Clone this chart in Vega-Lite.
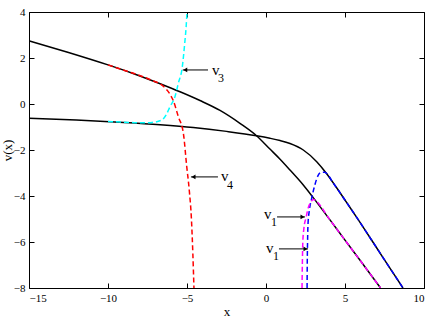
{
  "$schema": "https://vega.github.io/schema/vega-lite/v6.json",
  "autosize": {"type": "none"},
  "padding": {"left": 29, "top": 12, "right": 12, "bottom": 39},
  "width": 395,
  "height": 276,
  "background": "white",
  "config": {
    "view": {"stroke": "#000", "strokeWidth": 1},
    "font": "Liberation Serif",
    "axis": {"grid": true, "gridColor": "#000", "gridOpacity": 1, "gridWidth": 1, "ticks": false, "domain": false, "labelColor": "#000", "titleColor": "#000", "labelFont": "Liberation Serif", "titleFont": "Liberation Serif", "labelFontSize": 11, "titleFontSize": 13, "titleFontWeight": "normal", "labelPadding": 4},
    "axisX": {"gridDash": [5, 266]},
    "axisY": {"gridDash": [5, 385]}
  },
  "datasets": {
    "black": [
      {"s": "A", "o": 1, "x": -15, "y": 2.75},
      {"s": "A", "o": 2, "x": -12.5, "y": 2.24},
      {"s": "A", "o": 3, "x": -10, "y": 1.7},
      {"s": "A", "o": 4, "x": -8.5, "y": 1.35},
      {"s": "A", "o": 5, "x": -6.7, "y": 0.88},
      {"s": "A", "o": 6, "x": -5.44, "y": 0.53},
      {"s": "A", "o": 7, "x": -4.18, "y": 0.15},
      {"s": "A", "o": 8, "x": -2.91, "y": -0.28},
      {"s": "A", "o": 9, "x": -1.65, "y": -0.84},
      {"s": "A", "o": 10, "x": -0.6, "y": -1.38},
      {"s": "A", "o": 11, "x": 0.25, "y": -1.96},
      {"s": "A", "o": 12, "x": 0.89, "y": -2.4},
      {"s": "A", "o": 13, "x": 1.52, "y": -2.87},
      {"s": "A", "o": 14, "x": 2.36, "y": -3.52},
      {"s": "A", "o": 15, "x": 3, "y": -4.08},
      {"s": "A", "o": 16, "x": 4.05, "y": -5.04},
      {"s": "A", "o": 17, "x": 5, "y": -5.92},
      {"s": "A", "o": 18, "x": 6, "y": -6.84},
      {"s": "A", "o": 19, "x": 7.25, "y": -8},
      {"s": "B", "o": 1, "x": -15, "y": -0.62},
      {"s": "B", "o": 2, "x": -12, "y": -0.7},
      {"s": "B", "o": 3, "x": -9, "y": -0.8},
      {"s": "B", "o": 4, "x": -6.7, "y": -0.9},
      {"s": "B", "o": 5, "x": -4.6, "y": -1.02},
      {"s": "B", "o": 6, "x": -2.5, "y": -1.19},
      {"s": "B", "o": 7, "x": -0.6, "y": -1.38},
      {"s": "B", "o": 8, "x": 0.25, "y": -1.49},
      {"s": "B", "o": 9, "x": 0.89, "y": -1.59},
      {"s": "B", "o": 10, "x": 1.52, "y": -1.72},
      {"s": "B", "o": 11, "x": 2.36, "y": -2.0},
      {"s": "B", "o": 12, "x": 3.21, "y": -2.51},
      {"s": "B", "o": 13, "x": 3.84, "y": -3.03},
      {"s": "B", "o": 14, "x": 4.47, "y": -3.64},
      {"s": "B", "o": 15, "x": 5.1, "y": -4.28},
      {"s": "B", "o": 16, "x": 5.74, "y": -4.93},
      {"s": "B", "o": 17, "x": 7, "y": -6.25},
      {"s": "B", "o": 18, "x": 8, "y": -7.3},
      {"s": "B", "o": 19, "x": 8.67, "y": -8}
    ],
    "dash": [
      {"s": "v4", "o": 1, "x": -10, "y": 1.7},
      {"s": "v4", "o": 2, "x": -9, "y": 1.47},
      {"s": "v4", "o": 3, "x": -8, "y": 1.24},
      {"s": "v4", "o": 4, "x": -7.2, "y": 1.02},
      {"s": "v4", "o": 5, "x": -6.5, "y": 0.77},
      {"s": "v4", "o": 6, "x": -6.1, "y": 0.45},
      {"s": "v4", "o": 7, "x": -5.87, "y": 0.15},
      {"s": "v4", "o": 8, "x": -5.55, "y": -0.55},
      {"s": "v4", "o": 9, "x": -5.23, "y": -1.27},
      {"s": "v4", "o": 10, "x": -5.02, "y": -2.7},
      {"s": "v4", "o": 11, "x": -4.85, "y": -3.8},
      {"s": "v4", "o": 12, "x": -4.72, "y": -5},
      {"s": "v4", "o": 13, "x": -4.63, "y": -6.5},
      {"s": "v4", "o": 14, "x": -4.56, "y": -8},
      {"s": "v3", "o": 1, "x": -10, "y": -0.76},
      {"s": "v3", "o": 2, "x": -9, "y": -0.79},
      {"s": "v3", "o": 3, "x": -8, "y": -0.82},
      {"s": "v3", "o": 4, "x": -7.2, "y": -0.8},
      {"s": "v3", "o": 5, "x": -6.6, "y": -0.7},
      {"s": "v3", "o": 6, "x": -6.3, "y": -0.45},
      {"s": "v3", "o": 7, "x": -6.08, "y": -0.12},
      {"s": "v3", "o": 8, "x": -5.76, "y": 0.32},
      {"s": "v3", "o": 9, "x": -5.55, "y": 0.9},
      {"s": "v3", "o": 10, "x": -5.3, "y": 1.6},
      {"s": "v3", "o": 11, "x": -5.15, "y": 2.6},
      {"s": "v3", "o": 12, "x": -5.05, "y": 3.4},
      {"s": "v3", "o": 13, "x": -5.0, "y": 4},
      {"s": "v1b", "o": 1, "x": 2.6, "y": -8},
      {"s": "v1b", "o": 2, "x": 2.61, "y": -7},
      {"s": "v1b", "o": 3, "x": 2.63, "y": -6},
      {"s": "v1b", "o": 4, "x": 2.66, "y": -5.2},
      {"s": "v1b", "o": 5, "x": 2.75, "y": -4.6},
      {"s": "v1b", "o": 6, "x": 2.89, "y": -4.1},
      {"s": "v1b", "o": 7, "x": 3.1, "y": -3.5},
      {"s": "v1b", "o": 8, "x": 3.3, "y": -3.1},
      {"s": "v1b", "o": 9, "x": 3.5, "y": -2.97},
      {"s": "v1b", "o": 10, "x": 3.7, "y": -2.97},
      {"s": "v1b", "o": 11, "x": 3.95, "y": -3.1},
      {"s": "v1b", "o": 12, "x": 4.2, "y": -3.38},
      {"s": "v1b", "o": 13, "x": 4.47, "y": -3.64},
      {"s": "v1b", "o": 14, "x": 5.1, "y": -4.28},
      {"s": "v1b", "o": 15, "x": 5.74, "y": -4.93},
      {"s": "v1b", "o": 16, "x": 7, "y": -6.25},
      {"s": "v1b", "o": 17, "x": 8, "y": -7.3},
      {"s": "v1b", "o": 18, "x": 8.67, "y": -8},
      {"s": "v1a", "o": 1, "x": 2.28, "y": -8},
      {"s": "v1a", "o": 2, "x": 2.3, "y": -7},
      {"s": "v1a", "o": 3, "x": 2.33, "y": -6},
      {"s": "v1a", "o": 4, "x": 2.4, "y": -5.4},
      {"s": "v1a", "o": 5, "x": 2.53, "y": -4.95},
      {"s": "v1a", "o": 6, "x": 2.68, "y": -4.5},
      {"s": "v1a", "o": 7, "x": 2.85, "y": -4.25},
      {"s": "v1a", "o": 8, "x": 3.0, "y": -4.15},
      {"s": "v1a", "o": 9, "x": 3.15, "y": -4.21},
      {"s": "v1a", "o": 10, "x": 4.05, "y": -5.04},
      {"s": "v1a", "o": 11, "x": 5, "y": -5.92},
      {"s": "v1a", "o": 12, "x": 6, "y": -6.84},
      {"s": "v1a", "o": 13, "x": 7.25, "y": -8}
    ],
    "labels": [
      {"t": "v", "x": -3.42, "y": 1.5, "k": "main"},
      {"t": "3", "x": -3.04, "y": 1.13, "k": "sub"},
      {"t": "v", "x": -2.85, "y": -3.13, "k": "main"},
      {"t": "4", "x": -2.47, "y": -3.5, "k": "sub"},
      {"t": "v", "x": -0.13, "y": -4.8, "k": "main"},
      {"t": "1", "x": 0.32, "y": -5.15, "k": "sub"},
      {"t": "v", "x": 0.0, "y": -6.28, "k": "main"},
      {"t": "1", "x": 0.44, "y": -6.61, "k": "sub"}
    ],
    "arrows": [
      {"x1": -5.27, "x2": -3.67, "y": 1.48, "d": "left"},
      {"x1": -4.75, "x2": -3.04, "y": -3.17, "d": "left"},
      {"x1": 0.7, "x2": 2.47, "y": -4.91, "d": "right"},
      {"x1": 0.82, "x2": 2.66, "y": -6.3, "d": "right"}
    ]
  },
  "layer": [
    {
      "data": {"name": "black"},
      "mark": {"type": "line", "color": "#000", "strokeWidth": 1.5, "interpolate": "monotone", "clip": true},
      "encoding": {
        "x": {"field": "x", "type": "quantitative", "scale": {"domain": [-15, 10], "nice": false, "zero": false}, "axis": {"orient": "bottom", "values": [-15, -10, -5, 0, 5, 10], "title": "x", "titlePadding": 2}},
        "y": {"field": "y", "type": "quantitative", "scale": {"domain": [-8, 4], "nice": false, "zero": false}, "axis": {"orient": "left", "values": [-8, -6, -4, -2, 0, 2, 4], "title": "v(x)", "titleX": -22, "titleBaseline": "middle"}},
        "detail": {"field": "s"},
        "order": {"field": "o"}
      }
    },
    {
      "data": {"name": "dash"},
      "mark": {"type": "line", "strokeWidth": 1.5, "strokeDash": [5, 3], "interpolate": "monotone", "clip": true},
      "encoding": {
        "x": {"field": "x", "type": "quantitative"},
        "y": {"field": "y", "type": "quantitative"},
        "color": {"field": "s", "type": "nominal", "scale": {"domain": ["v4", "v3", "v1b", "v1a"], "range": ["#ff0000", "#00ffff", "#0000ff", "#ff00ff"]}, "legend": null},
        "order": {"field": "o"}
      }
    },
    {
      "data": {"name": "arrows"},
      "mark": {"type": "rule", "color": "#000", "strokeWidth": 1},
      "encoding": {
        "x": {"field": "x1", "type": "quantitative"},
        "x2": {"field": "x2"},
        "y": {"field": "y", "type": "quantitative"}
      }
    },
    {
      "data": {"name": "arrows"},
      "transform": [{"filter": "datum.d === 'left'"}],
      "mark": {"type": "point", "shape": "triangle-left", "filled": true, "color": "#000", "size": 22, "opacity": 1, "xOffset": 2.5},
      "encoding": {
        "x": {"field": "x1", "type": "quantitative"},
        "y": {"field": "y", "type": "quantitative"}
      }
    },
    {
      "data": {"name": "arrows"},
      "transform": [{"filter": "datum.d === 'right'"}],
      "mark": {"type": "point", "shape": "triangle-right", "filled": true, "color": "#000", "size": 22, "opacity": 1, "xOffset": -2.5},
      "encoding": {
        "x": {"field": "x2", "type": "quantitative"},
        "y": {"field": "y", "type": "quantitative"}
      }
    },
    {
      "data": {"name": "labels"},
      "transform": [{"filter": "datum.k === 'main'"}],
      "mark": {"type": "text", "align": "left", "baseline": "middle", "font": "Liberation Serif", "fontSize": 15, "color": "#000"},
      "encoding": {
        "x": {"field": "x", "type": "quantitative"},
        "y": {"field": "y", "type": "quantitative"},
        "text": {"field": "t"}
      }
    },
    {
      "data": {"name": "labels"},
      "transform": [{"filter": "datum.k === 'sub'"}],
      "mark": {"type": "text", "align": "left", "baseline": "middle", "font": "Liberation Serif", "fontSize": 12, "color": "#000"},
      "encoding": {
        "x": {"field": "x", "type": "quantitative"},
        "y": {"field": "y", "type": "quantitative"},
        "text": {"field": "t"}
      }
    }
  ]
}
